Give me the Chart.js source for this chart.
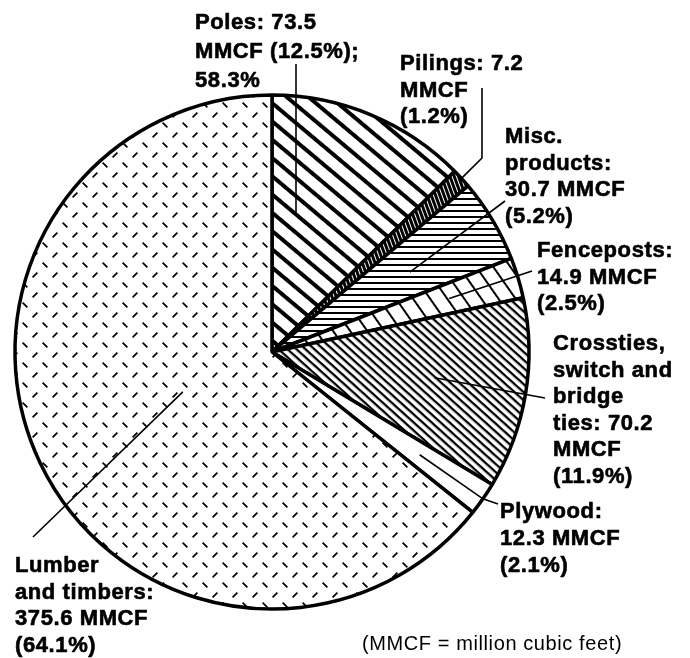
<!DOCTYPE html>
<html>
<head>
<meta charset="utf-8">
<script src="https://cdn.jsdelivr.net/npm/chart.js@4.4.1/dist/chart.umd.min.js"></script>
<style>
    body { margin: 0; background: #fff; }
    canvas { display: block; }
</style>
</head>
<body>
<canvas id="woodChart" width="690" height="658"></canvas>
<script>
// Treated wood by product, million cubic feet
const categories = ['Poles', 'Pilings', 'Misc. products', 'Fenceposts', 'Crossties, switch and bridge ties', 'Plywood', 'Lumber and timbers'];
const volumes = [73.5, 7.2, 30.7, 14.9, 70.2, 12.3, 375.6];
const shares = [12.5, 1.2, 5.2, 2.5, 11.9, 2.1, 64.1];
const poleShare = 58.3;
const footnote = '(MMCF = million cubic feet)';

const v = volumes.map(n => n.toFixed(1));
const s = shares.map(n => n.toFixed(1) + '%');

const labelLines = [
    ['Poles: ' + v[0], 'MMCF (' + s[0] + ');', poleShare.toFixed(1) + '%'],
    ['Pilings: ' + v[1], 'MMCF', '(' + s[1] + ')'],
    ['Misc.', 'products:', v[2] + ' MMCF', '(' + s[2] + ')'],
    ['Fenceposts:', v[3] + ' MMCF', '(' + s[3] + ')'],
    ['Crossties,', 'switch and', 'bridge', 'ties: ' + v[4], 'MMCF', '(' + s[4] + ')'],
    ['Plywood:', v[5] + ' MMCF', '(' + s[5] + ')'],
    ['Lumber', 'and timbers:', v[6] + ' MMCF', '(' + s[6] + ')']
];

// where each label block starts (first baseline) and its line height
const labelPos = [
    { x: 195, y: 29, lh: 29 },
    { x: 400, y: 70, lh: 26.5 },
    { x: 505, y: 143, lh: 26.5 },
    { x: 537, y: 257, lh: 26.5 },
    { x: 553, y: 350, lh: 26.6 },
    { x: 500, y: 518, lh: 27 },
    { x: 15, y: 572, lh: 26.5 }
];

// leader lines: fixed points near the labels, {a, r} = fraction along the slice angle / radius
const leaders = [
    [[296, 64], { a: 0.216, r: 0.55 }],
    [[482, 88], [482, 158], { a: 0.5, r: 1 }],
    [[505, 201], { a: 0.54, r: 0.62 }],
    [[532, 271], { a: 0.5, r: 0.72 }],
    [[545, 398], { a: 0.49, r: 0.64 }],
    [[498, 504], { a: 0.5, r: 1 }, { a: 0.5, r: 0.7 }],
    [[33, 537], { a: 0.507, r: 0.38 }]
];

function stripePattern(ctx, period, thick, angle, bg, fg) {
    const c = document.createElement('canvas');
    c.width = 8;
    c.height = period;
    const g = c.getContext('2d');
    g.fillStyle = bg;
    g.fillRect(0, 0, c.width, c.height);
    g.fillStyle = fg;
    g.fillRect(0, 0, c.width, thick);
    const p = ctx.createPattern(c, 'repeat');
    p.setTransform(new DOMMatrix().rotateSelf(angle));
    return p;
}

function dashPattern(ctx) {
    const c = document.createElement('canvas');
    c.width = 20;
    c.height = 20;
    const g = c.getContext('2d');
    g.fillStyle = '#fff';
    g.fillRect(0, 0, 20, 20);
    g.strokeStyle = '#000';
    g.lineWidth = 1.7;
    g.beginPath();
    g.moveTo(2.6, 2.6);
    g.lineTo(7.4, 7.4);
    g.moveTo(12.6, 17.4);
    g.lineTo(17.4, 12.6);
    g.stroke();
    return ctx.createPattern(c, 'repeat');
}

const canvas = document.getElementById('woodChart');
const ctx = canvas.getContext('2d');

const fills = [
    stripePattern(ctx, 14, 4, 40, '#fff', '#000'),
    stripePattern(ctx, 4, 3, 70, '#fff', '#000'),
    stripePattern(ctx, 6, 2, 0, '#fff', '#000'),
    stripePattern(ctx, 14, 2, 55, '#fff', '#000'),
    stripePattern(ctx, 6, 2.3, 42, '#fff', '#000'),
    '#fff',
    dashPattern(ctx)
];

const labelPlugin = {
    id: 'labels',
    afterDatasetsDraw(chart) {
        const c = chart.ctx;
        const arcs = chart.getDatasetMeta(0).data;

        c.save();
        c.strokeStyle = '#000';
        c.lineWidth = 1.6;
        leaders.forEach((pts, i) => {
            const arc = arcs[i];
            c.beginPath();
            pts.forEach((p, j) => {
                let x, y;
                if (Array.isArray(p)) {
                    x = p[0];
                    y = p[1];
                } else {
                    const ang = arc.startAngle + p.a * (arc.endAngle - arc.startAngle);
                    x = arc.x + Math.cos(ang) * arc.outerRadius * p.r;
                    y = arc.y + Math.sin(ang) * arc.outerRadius * p.r;
                }
                if (j === 0) c.moveTo(x, y);
                else c.lineTo(x, y);
            });
            c.stroke();
        });

        // heavy label type: fill plus a thin stroke
        c.fillStyle = '#000';
        c.lineWidth = 0.6;
        c.lineJoin = 'round';
        c.textBaseline = 'alphabetic';
        c.font = 'bold 22px "Liberation Sans", Arial, sans-serif';
        c.letterSpacing = '0.6px';
        labelLines.forEach((lines, i) => {
            const pos = labelPos[i];
            lines.forEach((t, k) => {
                c.fillText(t, pos.x, pos.y + k * pos.lh);
                c.strokeText(t, pos.x, pos.y + k * pos.lh);
            });
        });

        c.font = '20px "Liberation Sans", Arial, sans-serif';
        c.letterSpacing = '0.6px';
        c.fillText(footnote, 362, 650);
        c.restore();
    }
};

new Chart(ctx, {
    type: 'pie',
    data: {
        labels: categories,
        datasets: [{
            data: volumes,
            backgroundColor: fills,
            borderColor: '#000',
            borderWidth: 3.5
        }]
    },
    options: {
        responsive: false,
        animation: false,
        events: [],
        radius: 257,
        layout: {
            padding: { left: 0, right: 146, top: 46, bottom: 0 }
        },
        plugins: {
            legend: { display: false },
            tooltip: { enabled: false }
        }
    },
    plugins: [labelPlugin]
});
</script>
</body>
</html>
